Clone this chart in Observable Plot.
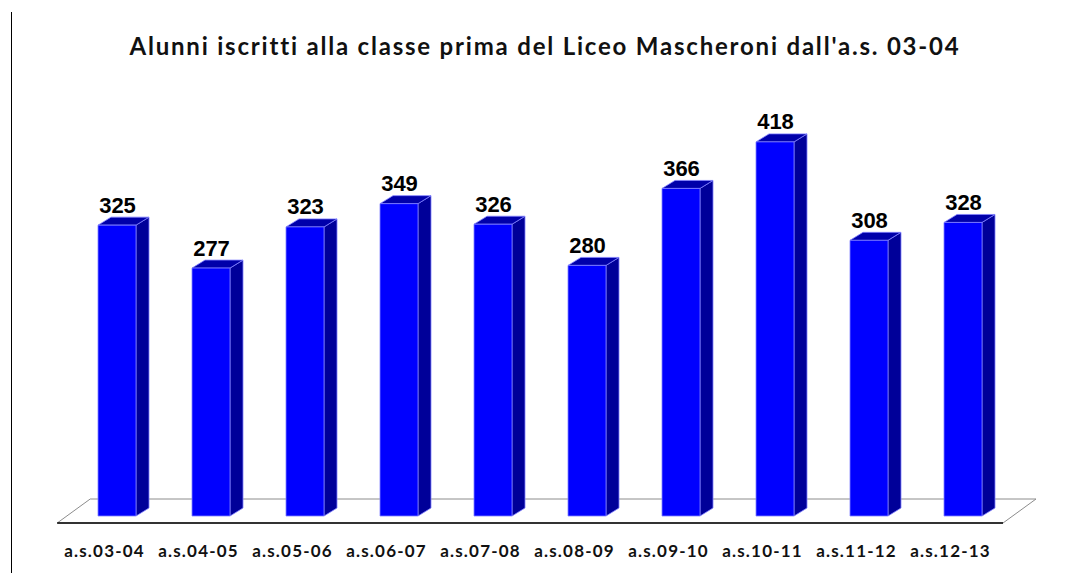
<!DOCTYPE html>
<html>
<head>
<meta charset="utf-8">
<script src="https://cdn.jsdelivr.net/npm/d3@7"></script>
<script src="https://cdn.jsdelivr.net/npm/@observablehq/plot@0.6"></script>
<style>
  html, body { margin: 0; padding: 0; background: #fff; }
  #wrap { position: relative; width: 1074px; height: 573px; overflow: hidden; }
  #border { position: absolute; left: 11px; top: 12px; width: 1px; height: 561px; background: #000; }
  #title { height: 80px; box-sizing: border-box; padding-top: 32px; padding-left: 16px; text-align: center;
           font-family: Lato, "Open Sans", sans-serif; font-weight: bold; font-size: 24px; letter-spacing: 1.8px;
           line-height: 28px; color: #111; }
  svg { display: block; }
  g.xlab text { letter-spacing: 1.2px; }
</style>
</head>
<body>
<div id="wrap">
  <div id="border"></div>
  <div id="title">Alunni iscritti alla classe prima del Liceo Mascheroni dall'a.s. 03-04</div>
  <div id="chart"></div>
</div>
<script>
const categories = ["a.s.03-04","a.s.04-05","a.s.05-06","a.s.06-07","a.s.07-08","a.s.08-09","a.s.09-10","a.s.10-11","a.s.11-12","a.s.12-13"];
const values = [325, 277, 323, 349, 326, 280, 366, 418, 308, 328];

const data = categories.map((c, i) => ({c, v: values[i]}));
const DX = 13, DY = 8;

function floorMark(index, scales, vals, dimensions) {
  const [r0, r1] = scales.x.range();
  const y0 = scales.y(0);
  const g = d3.create("svg:g");
  const back = y0 - 17, front = y0 + 7;
  const pts = [[r0 + 52, back], [r1 - 6, back], [r1 - 39, front], [r0 + 19, front]];
  g.append("polygon").attr("points", pts.map(p => p.join(",")).join(" "))
    .attr("fill", "#fff").attr("stroke", "#8c8c8c").attr("stroke-width", 1);
  g.append("line").attr("x1", r0 + 19).attr("x2", r1 - 39).attr("y1", front).attr("y2", front)
    .attr("stroke", "#000").attr("stroke-width", 1.5);
  return g.node();
}

function barsMark(index, scales, vals, dimensions) {
  const g = d3.create("svg:g");
  const bw = scales.x.bandwidth();
  const y0 = scales.y(0);
  for (const d of data) {
    const x0 = scales.x(d.c), x1 = x0 + bw, yt = scales.y(d.v);
    const poly = (pts, fill) => g.append("polygon")
      .attr("points", pts.map(p => p.join(",")).join(" "))
      .attr("fill", fill).attr("stroke", "#8080ff").attr("stroke-width", 0.8).attr("stroke-linejoin", "round");
    poly([[x1, y0], [x1, yt], [x1 + DX, yt - DY], [x1 + DX, y0 - DY]], "#000099");
    poly([[x0, yt], [x0 + DX, yt - DY], [x1 + DX, yt - DY], [x1, yt]], "#0000aa");
    poly([[x0, y0], [x0, yt], [x1, yt], [x1, y0]], "#0000ff");
  }
  return g.node();
}

const chart = Plot.plot({
  width: 1074,
  height: 493,
  marginLeft: 38.2,
  marginRight: 32,
  marginTop: 33.25,
  marginBottom: 57,
  x: {type: "band", domain: categories, padding: 0.6, axis: null},
  y: {domain: [0, 450], axis: null},
  marks: [
    floorMark,
    barsMark,
    Plot.text(data, {x: "c", y: "v", text: d => String(d.v), dy: -13, lineAnchor: "bottom",
      fontSize: 22, fontWeight: "bold", fontFamily: "Liberation Sans, Arial, sans-serif", fill: "#000"}),
    Plot.text(data, {x: "c", y: () => 0, text: "c", dx: -13, dy: 35.5, lineAnchor: "middle",
      fontSize: 17, fontWeight: "bold", fontFamily: "Lato, sans-serif", fill: "#111"})
  ]
});
// tag the category label group for letter-spacing
const textGroups = chart.querySelectorAll('g[aria-label="text"]');
if (textGroups.length) textGroups[textGroups.length - 1].classList.add("xlab");
document.getElementById("chart").appendChild(chart);
</script>
</body>
</html>
